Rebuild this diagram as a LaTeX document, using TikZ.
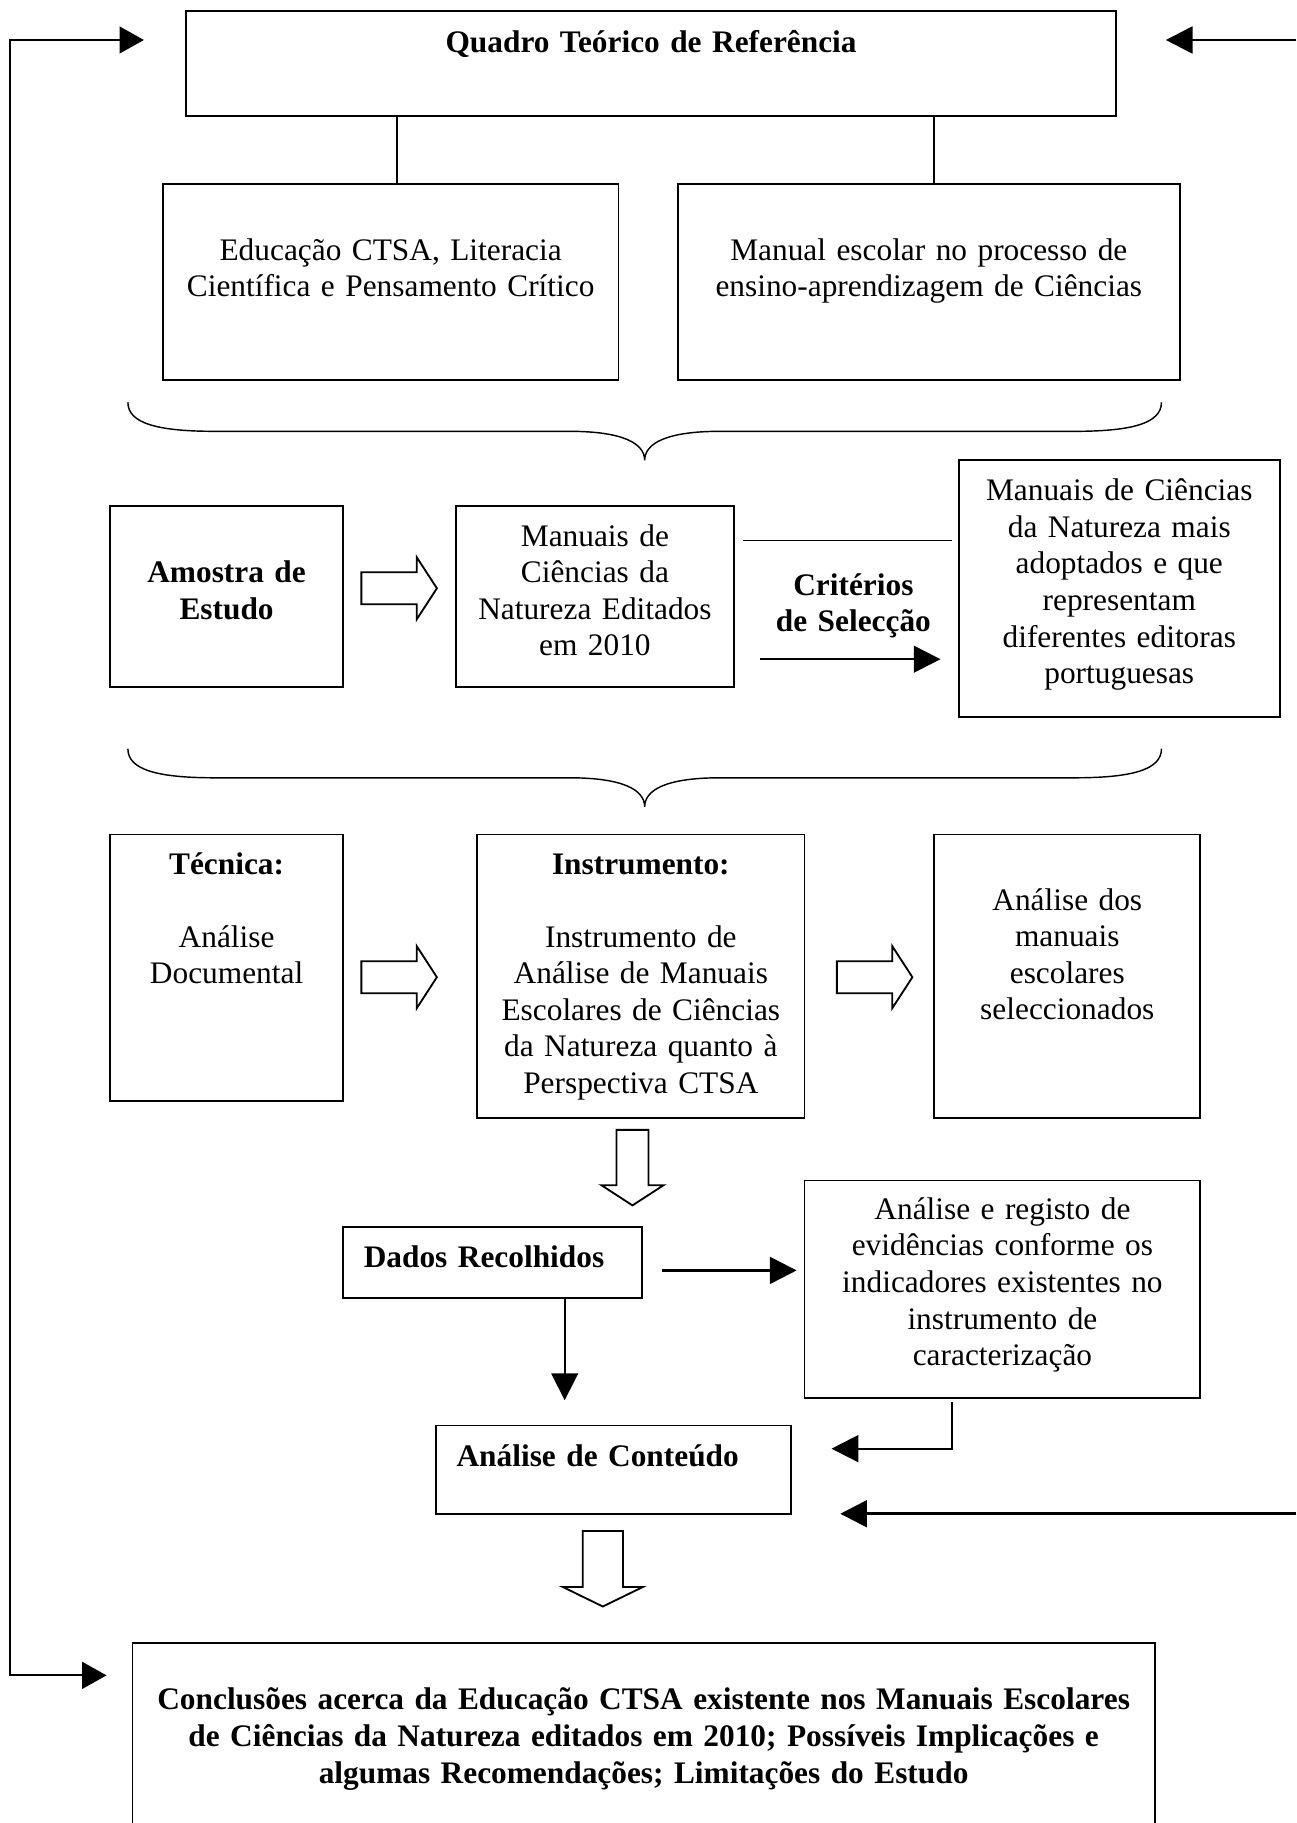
\documentclass[tikz,border=0pt]{standalone}
\usepackage{fontspec}
\setmainfont{Liberation Serif}
\usetikzlibrary{arrows.meta, shapes.arrows}

\begin{document}
\begin{tikzpicture}[
        x=0.02cm, y=-0.02cm,
        font=\fontsize{15.35}{17.9}\selectfont,
        box/.style={draw, line width=0.9pt, inner sep=0pt, align=center, anchor=north},
        heading/.style={font=\fontsize{15.35}{17.9}\selectfont\bfseries},
        hollow/.style={single arrow, draw, line width=0.9pt, inner xsep=0pt, inner ysep=0.26cm, minimum height=1.3cm, single arrow head extend=0.26cm, single arrow tip angle=114, anchor=tail},
        arrow/.style={-{Triangle[length=0.46cm, width=0.46cm]}, line width=1.3pt},
        slim/.style={line width=0.7pt}
    ]
    \useasboundingbox (0,0) rectangle (1115,1568);

    % Quadro teorico
    \node[box, heading, text width=16.0cm, text height=0.72cm, text depth=1.09cm] (quadro) at (560,8.6) {Quadro Teórico de Referência};
    \node[box, text width=7.84cm, text height=1.32cm, text depth=2.06cm] (educ) at (336,157.2) {Educação CTSA, Literacia\\Científica e Pensamento Crítico};
    \node[box, text width=8.63cm, text height=1.32cm, text depth=2.06cm] (manual) at (798.9,157.2) {Manual escolar no processo de\\ensino-aprendizagem de Ciências};

    \draw[slim] ([xshift=0.106cm]educ.north) -- ([xshift=0.106cm]educ.north |- quadro.south);
    \draw[slim] ([xshift=0.09cm]manual.north) -- ([xshift=0.09cm]manual.north |- quadro.south);

    % Chavetas
    \foreach \by in {346, 644}
        \draw[slim] (110,\by) .. controls (110,\by+18) and (135,\by+25) .. (185,\by+25) -- (490,\by+25) .. controls (535,\by+25) and (554.5,\by+35) .. (554.5,\by+50) .. controls (554.5,\by+35) and (574,\by+25) .. (619,\by+25) -- (924,\by+25) .. controls (974,\by+25) and (999,\by+18) .. (999,\by);

    % Amostra
    \node[box, heading, text width=4.01cm, text height=1.32cm, text depth=1.79cm] (amostra) at (194.9,434.5) {Amostra de\\Estudo};
    \node[box, text width=4.79cm, text height=0.69cm, text depth=2.42cm] (manuais) at (511.7,434.5) {Manuais de\\Ciências da\\Natureza Editados\\em 2010};
    \node[box, text width=5.52cm, text height=0.70cm, text depth=3.72cm] (selec) at (962.7,395) {Manuais de Ciências\\da Natureza mais\\adoptados e que\\representam\\diferentes editoras\\portuguesas};
    \node[hollow] (a1) at (310,506) {};

    \coordinate (critline) at (0,465);
    \coordinate (critarrow) at (0,567);
    \draw[slim, shorten <=0.13cm, shorten >=0.1cm] (manuais.east |- critline) -- (selec.west |- critline);
    \node[heading, text width=3.2cm, align=center, anchor=base] (crit) at (734,512) {Critérios\\de Selecção};
    \draw[arrow, line width=1.1pt, shorten <=0.43cm, shorten >=0.3cm] (manuais.east |- critarrow) -- (selec.west |- critarrow);

    % Tecnica e instrumento
    \node[box, text width=4.01cm, text height=0.68cm, text depth=3.91cm] (tecnica) at (194.9,717) {\textbf{Técnica:}\\[17.9pt]Análise\\Documental};
    \node[box, text width=5.63cm, text height=0.68cm, text depth=4.20cm] (instr) at (551.2,717) {\textbf{Instrumento:}\\[17.9pt]Instrumento de\\Análise de Manuais\\Escolares de Ciências\\da Natureza quanto à\\Perspectiva CTSA};
    \node[box, text width=4.58cm, text height=1.30cm, text depth=3.58cm] (analdos) at (918,717) {Análise dos\\manuais\\escolares\\seleccionados};
    \node[hollow] (a2) at (310,840.5) {};
    \node[hollow] (a3) at (719,840.5) {};
    \node[hollow, rotate=-90] (a4) at (544,971) {};

    % Dados
    \node[box, heading, align=left, inner xsep=0.36cm, text width=4.42cm, text height=0.70cm, text depth=0.52cm] (dados) at (423.4,1054.8) {Dados Recolhidos};
    \node[box, text width=6.81cm, text height=0.67cm, text depth=3.07cm] (registo) at (862.2,1014.5) {Análise e registo de\\evidências conforme os\\indicadores existentes no\\instrumento de\\caracterização};
    \node[box, heading, align=left, inner xsep=0.355cm, text width=5.40cm, text height=0.70cm, text depth=0.82cm] (conteudo) at (527.7,1225.3) {Análise de Conteúdo};

    \coordinate (dadosarrow) at (0,1092.7);
    \coordinate (dadosdown) at (485.7,0);
    \coordinate (registodown) at (819,1246);
    \draw[arrow, shorten <=0.34cm, shorten >=0.12cm] (dados.east |- dadosarrow) -- (registo.west |- dadosarrow);
    \draw[arrow, line width=0.9pt, shorten >=0.42cm] (dados.south -| dadosdown) -- (conteudo.north -| dadosdown);
    \draw[arrow, line width=1.1pt, shorten <=0.06cm, shorten >=0.68cm] (registo.south -| registodown) |- (conteudo.east |- registodown);

    % Conclusoes
    \node[hollow, rotate=-90, inner ysep=0.33cm, single arrow head extend=0.34cm, single arrow tip angle=128] (a5) at (518.5,1316) {};
    \node[box, heading, text width=17.59cm, text height=1.15cm, text depth=2.10cm] (concl) at (553.6,1412.4) {Conclusões acerca da Educação CTSA existente nos Manuais Escolares\\de Ciências da Natureza editados em 2010; Possíveis Implicações e\\algumas Recomendações; Limitações do Estudo};

    % Retorno
    \coordinate (loopT) at (8.5,34.4);
    \coordinate (loopB) at (8.5,1441);
    \coordinate (rimT) at (1115,34.4);
    \coordinate (rimB) at (1115,1302);
    \draw[arrow, {Triangle[length=0.42cm, width=0.46cm]}-{Triangle[length=0.42cm, width=0.46cm]}, line width=1.1pt, shorten <=0.71cm, shorten >=0.43cm] (quadro.west |- loopT) -- (loopT) -- (loopB) -- (concl.west |- loopB);
    \draw[arrow, shorten >=0.84cm] (rimT) -- (quadro.east |- rimT);
    \draw[arrow, shorten >=0.83cm] (rimB) -- (conteudo.east |- rimB);
\end{tikzpicture}
\end{document}
